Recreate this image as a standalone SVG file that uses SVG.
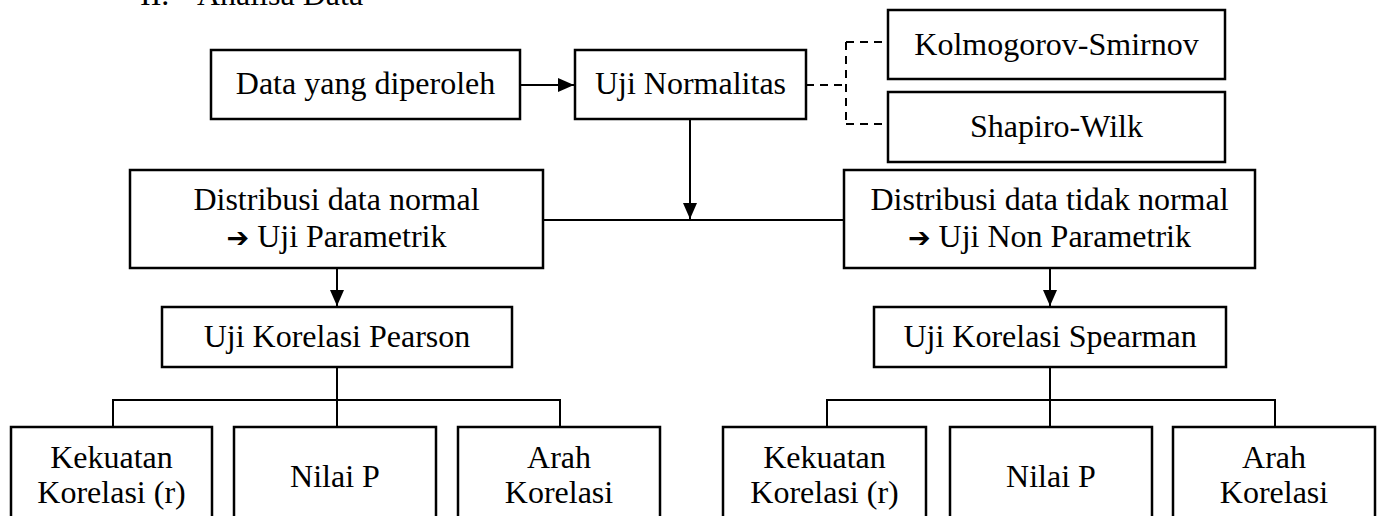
<svg xmlns="http://www.w3.org/2000/svg" width="1379" height="516" viewBox="0 0 1379 516">
<style>
.box{fill:#fff;stroke:#000;stroke-width:2.5}
.ln{fill:none;stroke:#000;stroke-width:2}
.dash{fill:none;stroke:#000;stroke-width:2;stroke-dasharray:8 6}
text{font-family:"Liberation Serif","Times New Roman",serif;font-size:32px;fill:#000;text-anchor:middle}
.sym{font-family:"DejaVu Sans",sans-serif;font-size:27px;font-weight:bold}
</style>
<defs>
<marker id="ah" markerUnits="userSpaceOnUse" markerWidth="16" markerHeight="14" refX="16" refY="7" orient="auto">
<path d="M0,0 L16,7 L0,14 Z" fill="#000"/>
</marker>
</defs>
<g id="title">
<text x="140" y="5" style="text-anchor:start">II.</text>
<text x="197" y="5" style="text-anchor:start">Analisa Data</text>
</g>
<g id="connectors">
<line class="ln" x1="520" y1="85" x2="574" y2="85" marker-end="url(#ah)"/>
<path class="dash" d="M806,85 H846 M846,42 V124 M846,42 H888 M846,124 H888"/>
<line class="ln" x1="690" y1="119" x2="690" y2="219" marker-end="url(#ah)"/>
<line class="ln" x1="543" y1="220" x2="844" y2="220"/>
<line class="ln" x1="337" y1="268" x2="337" y2="306" marker-end="url(#ah)"/>
<line class="ln" x1="1050" y1="268" x2="1050" y2="306" marker-end="url(#ah)"/>
<path class="ln" d="M337,367 V400 M113,427 V400 H560 V427 M337,400 V427"/>
<path class="ln" d="M1050,367 V400 M827,427 V400 H1275 V427 M1050,400 V427"/>
</g>
<g id="data">
<rect class="box" x="211" y="50" width="309" height="69"/>
<text x="365.5" y="94">Data yang diperoleh</text>
</g>
<g id="normalitas">
<rect class="box" x="575" y="50" width="231" height="69"/>
<text x="690.5" y="94">Uji Normalitas</text>
</g>
<g id="kolmogorov">
<rect class="box" x="888" y="10" width="337" height="69"/>
<text x="1056.5" y="55">Kolmogorov-Smirnov</text>
</g>
<g id="shapiro">
<rect class="box" x="888" y="92" width="337" height="70"/>
<text x="1056.5" y="137">Shapiro-Wilk</text>
</g>
<g id="normal">
<rect class="box" x="130" y="170" width="413" height="98"/>
<text x="336.5" y="210">Distribusi data normal</text>
<text x="336.5" y="247"><tspan class="sym">➔</tspan> Uji Parametrik</text>
</g>
<g id="tidaknormal">
<rect class="box" x="844" y="170" width="411" height="98"/>
<text x="1049.5" y="210">Distribusi data tidak normal</text>
<text x="1049.5" y="247"><tspan class="sym">➔</tspan> Uji Non Parametrik</text>
</g>
<g id="pearson">
<rect class="box" x="162" y="307" width="350" height="60"/>
<text x="337" y="347">Uji Korelasi Pearson</text>
</g>
<g id="spearman">
<rect class="box" x="874" y="307" width="352" height="60"/>
<text x="1050" y="347">Uji Korelasi Spearman</text>
</g>
<g id="kekuatan1">
<rect class="box" x="11" y="427" width="201" height="110"/>
<text x="111.5" y="468">Kekuatan</text>
<text x="111.5" y="503">Korelasi (r)</text>
</g>
<g id="nilaip1">
<rect class="box" x="234" y="427" width="202" height="110"/>
<text x="335" y="487">Nilai P</text>
</g>
<g id="arah1">
<rect class="box" x="458" y="427" width="202" height="110"/>
<text x="559" y="468">Arah</text>
<text x="559" y="503">Korelasi</text>
</g>
<g id="kekuatan2">
<rect class="box" x="723" y="427" width="203" height="110"/>
<text x="824.5" y="468">Kekuatan</text>
<text x="824.5" y="503">Korelasi (r)</text>
</g>
<g id="nilaip2">
<rect class="box" x="950" y="427" width="202" height="110"/>
<text x="1051" y="487">Nilai P</text>
</g>
<g id="arah2">
<rect class="box" x="1173" y="427" width="202" height="110"/>
<text x="1274" y="468">Arah</text>
<text x="1274" y="503">Korelasi</text>
</g>
</svg>
